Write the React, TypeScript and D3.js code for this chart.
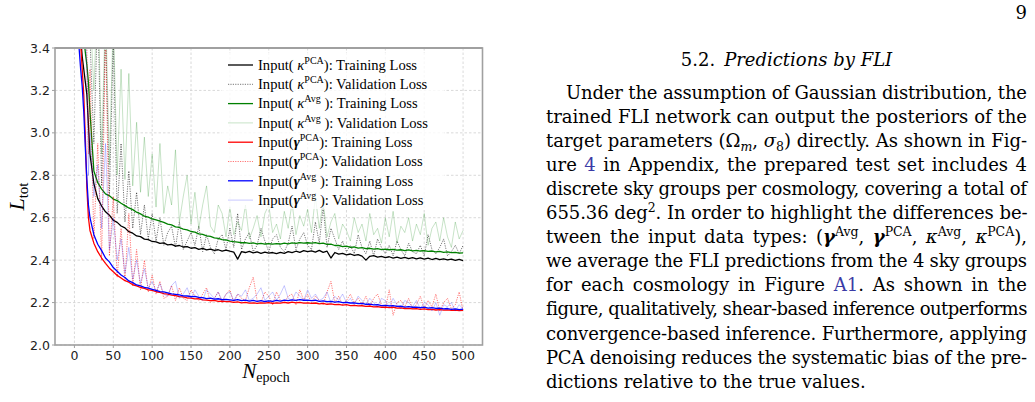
import React, { useLayoutEffect, useRef, useState } from "react";
import * as d3 from "d3";

// Sample epochs: every 2 epochs at the start, then every 5 epochs.
const EPOCHS = [...d3.range(0, 20, 2), ...d3.range(20, 501, 5)];

const KPCA_TRAIN = [
  6.2, 5.0, 4.1, 3.6, 3.45, 3.36, 3.30, 3.24, 3.18, 3.04,
  2.90, 2.76, 2.69, 2.655, 2.628, 2.612, 2.588, 2.578, 2.561, 2.552, 2.534, 2.527, 2.514, 2.511, 2.499, 2.497, 2.488,
  2.486, 2.479, 2.481, 2.472, 2.474, 2.466, 2.469, 2.462, 2.464, 2.456, 2.459, 2.451, 2.455, 2.448, 2.452, 2.446, 2.449, 2.443, 2.447, 2.442,
  2.438, 2.405, 2.440, 2.436, 2.441, 2.434, 2.439, 2.432, 2.438, 2.433, 2.436, 2.431, 2.437, 2.432, 2.440, 2.435, 2.442, 2.437, 2.445, 2.440,
  2.444, 2.438, 2.446, 2.437, 2.442, 2.410, 2.436, 2.428, 2.432, 2.425, 2.429, 2.422, 2.426, 2.419, 2.400, 2.418, 2.421, 2.414, 2.418, 2.412,
  2.416, 2.410, 2.414, 2.408, 2.413, 2.407, 2.412, 2.406, 2.411, 2.405, 2.409, 2.403, 2.408, 2.402, 2.406, 2.401, 2.405, 2.399, 2.404, 2.398,
];
const KPCA_VAL = [
  7.0, 6.0, 5.0, 4.5, 4.2, 4.0, 3.9, 3.8, 3.7, 3.6,
  3.45, 2.95, 3.60, 2.75, 3.50, 2.70, 3.45, 2.62, 2.95, 2.58, 2.82, 2.55, 2.72, 2.52, 2.66, 2.50, 2.62,
  2.49, 2.60, 2.47, 2.53, 2.56, 2.46, 2.58, 2.45, 2.49, 2.53, 2.47, 2.56, 2.44, 2.52, 2.46, 2.43, 2.50, 2.52, 2.45, 2.55,
  2.46, 2.62, 2.45, 2.50, 2.53, 2.44, 2.47, 2.55, 2.49, 2.44, 2.50, 2.52, 2.46, 2.44, 2.48, 2.56, 2.45, 2.50, 2.53, 2.47,
  2.45, 2.58, 2.48, 2.65, 2.46, 2.55, 2.50, 2.45, 2.49, 2.44, 2.47, 2.43, 2.52, 2.46, 2.43, 2.49, 2.42, 2.50, 2.46, 2.43,
  2.47, 2.42, 2.49, 2.45, 2.42, 2.48, 2.44, 2.43, 2.47, 2.42, 2.52, 2.45, 2.43, 2.46, 2.50, 2.42, 2.44, 2.47, 2.43, 2.47,
];
const KAVG_TRAIN = [
  6.5, 5.3, 4.4, 3.9, 3.7, 3.55, 3.45, 3.38, 3.32, 3.24,
  3.10, 2.82, 2.765, 2.735, 2.712, 2.703, 2.688, 2.681, 2.668, 2.657, 2.646, 2.638, 2.626, 2.618, 2.607, 2.603, 2.594,
  2.590, 2.584, 2.578, 2.570, 2.566, 2.557, 2.554, 2.546, 2.543, 2.535, 2.532, 2.524, 2.521, 2.514, 2.512, 2.505, 2.503, 2.497, 2.495, 2.490,
  2.487, 2.485, 2.482, 2.483, 2.479, 2.481, 2.477, 2.479, 2.476, 2.478, 2.475, 2.478, 2.476, 2.480, 2.477, 2.481, 2.479, 2.483, 2.480, 2.482,
  2.480, 2.483, 2.478, 2.480, 2.474, 2.475, 2.469, 2.470, 2.464, 2.466, 2.460, 2.462, 2.457, 2.459, 2.454, 2.456, 2.452, 2.454, 2.450, 2.452,
  2.449, 2.451, 2.447, 2.449, 2.445, 2.448, 2.444, 2.446, 2.443, 2.445, 2.441, 2.443, 2.439, 2.441, 2.437, 2.439, 2.435, 2.437, 2.433, 2.434,
];
const KAVG_VAL = [
  8.0, 7.0, 6.0, 5.2, 4.8, 4.5, 4.2, 4.0, 3.8, 3.7,
  3.60, 3.20, 3.70, 2.90, 3.60, 2.85, 3.55, 2.80, 3.30, 2.78, 3.28, 2.75, 3.05, 2.72, 2.98, 2.70, 2.90,
  2.65, 2.95, 2.62, 2.75, 2.66, 2.92, 2.58, 2.70, 2.80, 2.57, 2.72, 2.55, 2.66, 2.75, 2.56, 2.53, 2.66, 2.62, 2.51, 2.65,
  2.52, 2.58, 2.54, 2.66, 2.50, 2.55, 2.61, 2.51, 2.62, 2.66, 2.53, 2.57, 2.50, 2.63, 2.55, 2.67, 2.52, 2.61, 2.56, 2.64,
  2.53, 2.70, 2.55, 2.68, 2.51, 2.58, 2.62, 2.50, 2.57, 2.54, 2.49, 2.60, 2.53, 2.57, 2.49, 2.62, 2.52, 2.55, 2.48, 2.60,
  2.51, 2.63, 2.48, 2.56, 2.53, 2.60, 2.49, 2.57, 2.52, 2.62, 2.47, 2.55, 2.58, 2.49, 2.60, 2.51, 2.46, 2.58, 2.50, 2.54,
];
const GPCA_TRAIN = [
  6.0, 4.9, 4.0, 3.55, 3.42, 3.30, 3.18, 2.98, 2.74, 2.60,
  2.54, 2.48, 2.44, 2.41, 2.385, 2.362, 2.345, 2.328, 2.316, 2.303, 2.296, 2.284, 2.279, 2.271, 2.267, 2.260, 2.257,
  2.251, 2.248, 2.242, 2.240, 2.235, 2.233, 2.228, 2.227, 2.222, 2.221, 2.217, 2.218, 2.213, 2.212, 2.209, 2.210, 2.206, 2.207, 2.204, 2.205,
  2.201, 2.203, 2.199, 2.201, 2.197, 2.199, 2.196, 2.199, 2.197, 2.200, 2.196, 2.199, 2.197, 2.201, 2.198, 2.202, 2.199, 2.201, 2.197, 2.199,
  2.196, 2.198, 2.194, 2.196, 2.192, 2.194, 2.190, 2.191, 2.188, 2.190, 2.186, 2.187, 2.184, 2.185, 2.182, 2.183, 2.180, 2.181, 2.178, 2.179,
  2.176, 2.178, 2.174, 2.175, 2.172, 2.173, 2.170, 2.171, 2.168, 2.170, 2.167, 2.168, 2.165, 2.167, 2.164, 2.166, 2.163, 2.165, 2.162, 2.163,
];
const GPCA_VAL = [
  7.0, 6.0, 5.0, 4.6, 4.3, 4.0, 3.8, 3.7, 3.4, 2.9,
  3.30, 2.50, 2.95, 2.40, 3.50, 2.42, 2.70, 2.32, 2.55, 2.30, 2.62, 2.28, 2.45, 2.26, 2.40, 2.25, 2.33,
  2.24, 2.30, 2.22, 2.23, 2.28, 2.21, 2.27, 2.22, 2.21, 2.26, 2.23, 2.21, 2.24, 2.27, 2.20, 2.22, 2.25, 2.20, 2.24, 2.26,
  2.20, 2.24, 2.22, 2.21, 2.27, 2.32, 2.21, 2.20, 2.25, 2.23, 2.19, 2.25, 2.21, 2.20, 2.23, 2.24, 2.19, 2.26, 2.21, 2.24,
  2.20, 2.23, 2.21, 2.19, 2.25, 2.30, 2.20, 2.23, 2.19, 2.21, 2.24, 2.20, 2.22, 2.19, 2.23, 2.18, 2.22, 2.24, 2.19, 2.17,
  2.26, 2.14, 2.20, 2.21, 2.18, 2.22, 2.17, 2.19, 2.23, 2.17, 2.21, 2.18, 2.24, 2.16, 2.20, 2.22, 2.17, 2.19, 2.25, 2.16,
];
const GAVG_TRAIN = [
  5.6, 4.6, 3.8, 3.40, 3.30, 3.22, 3.10, 2.93, 2.78, 2.66,
  2.60, 2.52, 2.475, 2.445, 2.41, 2.392, 2.365, 2.348, 2.33, 2.318, 2.302, 2.294, 2.283, 2.279, 2.272, 2.268, 2.262,
  2.258, 2.252, 2.250, 2.246, 2.241, 2.239, 2.236, 2.232, 2.231, 2.228, 2.229, 2.224, 2.223, 2.219, 2.221, 2.216, 2.218, 2.214, 2.215, 2.213,
  2.210, 2.214, 2.209, 2.212, 2.207, 2.210, 2.206, 2.209, 2.205, 2.208, 2.206, 2.210, 2.207, 2.212, 2.209, 2.213, 2.210, 2.214, 2.211, 2.212,
  2.209, 2.211, 2.206, 2.208, 2.204, 2.206, 2.202, 2.204, 2.200, 2.201, 2.198, 2.199, 2.195, 2.196, 2.192, 2.193, 2.189, 2.190, 2.186, 2.187,
  2.184, 2.186, 2.182, 2.183, 2.179, 2.181, 2.178, 2.179, 2.176, 2.178, 2.174, 2.176, 2.173, 2.174, 2.170, 2.172, 2.168, 2.170, 2.167, 2.169,
];
const GAVG_VAL = [
  7.0, 6.0, 5.0, 4.4, 4.0, 3.8, 3.6, 3.5, 3.3, 2.8,
  3.00, 2.70, 2.85, 2.55, 2.95, 2.45, 2.60, 2.40, 2.50, 2.34, 2.46, 2.31, 2.40, 2.29, 2.36, 2.27, 2.30,
  2.25, 2.29, 2.24, 2.23, 2.28, 2.30, 2.22, 2.24, 2.27, 2.22, 2.26, 2.23, 2.21, 2.26, 2.24, 2.22, 2.25, 2.21, 2.24, 2.25,
  2.21, 2.24, 2.23, 2.26, 2.21, 2.22, 2.24, 2.27, 2.21, 2.23, 2.25, 2.21, 2.24, 2.28, 2.22, 2.21, 2.25, 2.23, 2.21, 2.26,
  2.22, 2.24, 2.21, 2.22, 2.25, 2.20, 2.23, 2.21, 2.24, 2.20, 2.22, 2.19, 2.23, 2.21, 2.19, 2.22, 2.20, 2.18, 2.22, 2.21,
  2.18, 2.22, 2.19, 2.17, 2.21, 2.20, 2.18, 2.21, 2.17, 2.20, 2.19, 2.16, 2.20, 2.14, 2.19, 2.18, 2.20, 2.16, 2.19, 2.17,
];

const X_TICKS = [0, 50, 100, 150, 200, 250, 300, 350, 400, 450, 500];
const Y_TICKS = [2.0, 2.2, 2.4, 2.6, 2.8, 3.0, 3.2, 3.4];

type Seg = [string, string];

// Legend labels: [text, kind] pieces
const LEGEND_LABELS: Seg[][] = [
  [["Input( ", "n"], ["κ", "i"], ["PCA", "sup"], ["): Training Loss", "n"]],
  [["Input( ", "n"], ["κ", "i"], ["PCA", "sup"], ["): Validation Loss", "n"]],
  [["Input( ", "n"], ["κ", "i"], ["Avg", "sup"], [" ): Training Loss", "n"]],
  [["Input( ", "n"], ["κ", "i"], ["Avg", "sup"], [" ): Validation Loss", "n"]],
  [["Input(", "n"], ["γ", "bi"], ["PCA", "sup"], ["): Training Loss", "n"]],
  [["Input(", "n"], ["γ", "bi"], ["PCA", "sup"], ["): Validation Loss", "n"]],
  [["Input(", "n"], ["γ", "bi"], ["Avg", "sup"], [" ): Training Loss", "n"]],
  [["Input(", "n"], ["γ", "bi"], ["Avg", "sup"], [" ): Validation Loss", "n"]],
];

const SERIES = [
  { values: KPCA_TRAIN, stroke: "#000000", width: 1.3, dash: "", opacity: 1 },
  { values: KPCA_VAL, stroke: "#000000", width: 0.9, dash: "1.2,1.2", opacity: 0.6 },
  { values: KAVG_TRAIN, stroke: "#008000", width: 1.3, dash: "", opacity: 1 },
  { values: KAVG_VAL, stroke: "#008000", width: 1.0, dash: "", opacity: 0.22 },
  { values: GPCA_TRAIN, stroke: "#ff0000", width: 1.3, dash: "", opacity: 1 },
  { values: GPCA_VAL, stroke: "#ff0000", width: 0.9, dash: "1.2,1.2", opacity: 0.6 },
  { values: GAVG_TRAIN, stroke: "#0000ff", width: 1.3, dash: "", opacity: 1 },
  { values: GAVG_VAL, stroke: "#0000ff", width: 1.0, dash: "", opacity: 0.22 },
];

const SECTION_NUM = "5.2.";
const SECTION_TITLE = "Predictions by FLI";
const PAGE_NUM = "9";

const PARAGRAPH: Seg[][] = [
  [["Under the assumption of Gaussian distribution, the", "n"]],
  [["trained FLI network can output the posteriors of the", "n"]],
  [["target parameters (", "n"], ["Ω", "n"], ["m", "subi"], [", ", "n"], ["σ", "i"], ["8", "sub"], [") directly. As shown in Fig-", "n"]],
  [["ure ", "n"], ["4", "link"], [" in Appendix, the prepared test set includes 4", "n"]],
  [["discrete sky groups per cosmology, covering a total of", "n"]],
  [["655.36 deg", "n"], ["2", "sup"], [". In order to highlight the differences be-", "n"]],
  [["tween the input data types: (", "n"], ["γ", "bi"], ["Avg", "sup"], [", ", "n"], ["γ", "bi"], ["PCA", "sup"], [", ", "n"], ["κ", "i"], ["Avg", "sup"], [", ", "n"], ["κ", "i"], ["PCA", "sup"], ["),", "n"]],
  [["we average the FLI predictions from the 4 sky groups", "n"]],
  [["for each cosmology in Figure ", "n"], ["A1", "link"], [". As shown in the", "n"]],
  [["figure, qualitatively, shear-based inference outperforms", "n"]],
  [["convergence-based inference. Furthermore, applying", "n"]],
  [["PCA denoising reduces the systematic bias of the pre-", "n"]],
  [["dictions relative to the true values.", "n"]],
];

const W = 1035;
const H = 402;
const PLOT = { left: 55, right: 482.5, top: 48, bottom: 345 };

const x = d3.scaleLinear().domain([-25, 525]).range([PLOT.left, PLOT.right]);
const y = d3.scaleLinear().domain([2.0, 3.4]).range([PLOT.bottom, PLOT.top]);

const SERIF = "'Liberation Serif', 'Times New Roman', serif";
const BODY = "'DejaVu Serif', serif";
const SANS = "'DejaVu Sans', sans-serif";

function renderSegs(segs: Seg[], base: number, small: number, supShift: number, subShift: number, linkColor = "#3b3ba6") {
  let cur = 0;
  return segs.map(([t, kind], i) => {
    let target = 0;
    const style: React.CSSProperties = {};
    let size = base;
    if (kind === "sup") { target = -supShift; size = small; }
    if (kind === "sub" || kind === "subi") { target = subShift; size = small; }
    if (kind === "i" || kind === "subi") style.fontStyle = "italic";
    if (kind === "bi") { style.fontStyle = "italic"; style.fontWeight = "bold"; }
    const dy = target - cur;
    cur = target;
    return (
      <tspan key={i} dy={dy || undefined} fontSize={size} style={style} fill={kind === "link" ? linkColor : undefined}>
        {t}
      </tspan>
    );
  });
}

const BODY_SIZE = 18;

type Spacing = { word: number; letter: number };

export default function App() {
  const line = d3
    .line<number>()
    .x((_, i) => x(EPOCHS[i]))
    .y((v) => y(v));

  const legendX0 = 228;
  const legendX1 = 253;
  const legendTextX = 258;
  const legendY0 = 65;
  const legendStep = 19.3;

  const paraLeft = 546;
  const paraRight = 1027;
  const paraTop = 99;
  const paraStep = 24.05;

  const lineRefs = useRef<(SVGTextElement | null)[]>([]);
  const [spacing, setSpacing] = useState<Spacing[]>(PARAGRAPH.map(() => ({ word: 0, letter: 0 })));

  // Justify every line but the last: widen the spaces, or tighten letters when a line runs long.
  useLayoutEffect(() => {
    const sp = PARAGRAPH.map((segs, i) => {
      const el = lineRefs.current[i];
      if (!el || i === PARAGRAPH.length - 1) return { word: 0, letter: 0 };
      const lx = i === 0 ? paraLeft + 20 : paraLeft;
      const natural = el.getComputedTextLength();
      const text = segs.map((s) => s[0]).join("");
      const n = (text.match(/ /g) || []).length;
      const extra = paraRight - lx - natural;
      if (extra >= 0) return { word: n ? extra / n : 0, letter: 0 };
      return { word: 0, letter: extra / Math.max(1, text.length - 1) };
    });
    setSpacing(sp);
  }, []);

  return (
    <svg
      width={W}
      height={H}
      viewBox={`0 0 ${W} ${H}`}
      style={{ position: "absolute", left: 0, top: 0, background: "#fff" }}
    >
      <defs>
        <clipPath id="plot-area">
          <rect x={PLOT.left} y={PLOT.top} width={PLOT.right - PLOT.left} height={PLOT.bottom - PLOT.top} />
        </clipPath>
      </defs>
      <rect x={0} y={0} width={W} height={H} fill="#fff" />

      {/* grid */}
      <g stroke="#cfcfcf" strokeWidth={0.8} strokeDasharray="2.5,2">
        {X_TICKS.map((t) => (
          <line key={`gx${t}`} x1={x(t)} x2={x(t)} y1={PLOT.top} y2={PLOT.bottom} />
        ))}
        {Y_TICKS.map((t) => (
          <line key={`gy${t}`} x1={PLOT.left} x2={PLOT.right} y1={y(t)} y2={y(t)} />
        ))}
      </g>

      {/* loss curves */}
      <g clipPath="url(#plot-area)" fill="none">
        {SERIES.map((s, i) => (
          <path
            key={i}
            d={line(s.values) || ""}
            stroke={s.stroke}
            strokeWidth={s.width}
            strokeOpacity={s.opacity}
            strokeDasharray={s.dash || undefined}
            strokeLinejoin="round"
          />
        ))}
      </g>

      {/* legend */}
      <rect x={222} y={53} width={222} height={156} fill="#fff" fillOpacity={0.8} />
      {SERIES.map((s, i) => {
        const cy = legendY0 + i * legendStep;
        return (
          <g key={`lg${i}`}>
            <line
              x1={legendX0}
              x2={legendX1}
              y1={cy}
              y2={cy}
              stroke={s.stroke}
              strokeWidth={s.width}
              strokeOpacity={s.opacity}
              strokeDasharray={s.dash || undefined}
            />
            <text x={legendTextX} y={cy + 4.8} fontFamily={SERIF} fontSize={14.6} fill="#000">
              {renderSegs(LEGEND_LABELS[i], 14.6, 10, 6, 3)}
            </text>
          </g>
        );
      })}

      {/* frame */}
      <rect
        x={PLOT.left}
        y={PLOT.top}
        width={PLOT.right - PLOT.left}
        height={PLOT.bottom - PLOT.top}
        fill="none"
        stroke="#a0a0a0"
        strokeWidth={1.6}
      />
      <line x1={PLOT.left} x2={PLOT.right} y1={PLOT.top} y2={PLOT.top} stroke="#a0a0a0" strokeWidth={2.2} />

      {/* x axis */}
      {X_TICKS.map((t) => (
        <g key={`xt${t}`}>
          <line x1={x(t)} x2={x(t)} y1={PLOT.bottom} y2={PLOT.bottom + 3} stroke="#a0a0a0" strokeWidth={1} />
          <text x={x(t)} y={360} textAnchor="middle" fontFamily={SANS} fontSize={12.5} fill="#222">
            {t}
          </text>
        </g>
      ))}
      {/* y axis */}
      {Y_TICKS.map((t) => (
        <g key={`yt${t}`}>
          <line x1={PLOT.left - 3} x2={PLOT.left} y1={y(t)} y2={y(t)} stroke="#a0a0a0" strokeWidth={1} />
          <text x={50} y={y(t) + 4.5} textAnchor="end" fontFamily={SANS} fontSize={12.5} fill="#222">
            {t.toFixed(1)}
          </text>
        </g>
      ))}

      {/* axis titles */}
      <text
        transform={`translate(24, ${(PLOT.top + PLOT.bottom) / 2}) rotate(-90)`}
        textAnchor="middle"
        fontFamily={SERIF}
        fill="#000"
      >
        <tspan fontSize={22} fontStyle="italic">L</tspan>
        <tspan fontSize={15} dy={4}>tot</tspan>
      </text>
      <text x={266} y={378} textAnchor="middle" fontFamily={SERIF} fill="#000">
        <tspan fontSize={21} fontStyle="italic">N</tspan>
        <tspan fontSize={14} dy={4}>epoch</tspan>
      </text>

      {/* page text */}
      <text x={paraRight} y={19} textAnchor="end" fontFamily={BODY} fontSize={BODY_SIZE} fill="#000">
        {PAGE_NUM}
      </text>
      <text x={(paraLeft + paraRight) / 2} y={66} textAnchor="middle" fontFamily={BODY} fontSize={BODY_SIZE} fill="#000">
        <tspan>{SECTION_NUM}</tspan>
        <tspan dx={9} fontStyle="italic">{SECTION_TITLE}</tspan>
      </text>
      {PARAGRAPH.map((segs, i) => {
        const lx = i === 0 ? paraLeft + 20 : paraLeft;
        const sp = spacing[i] || { word: 0, letter: 0 };
        return (
          <text
            key={`p${i}`}
            ref={(el) => {
              lineRefs.current[i] = el;
            }}
            x={lx}
            y={paraTop + i * paraStep}
            fontFamily={BODY}
            fontSize={BODY_SIZE}
            fill="#000"
            style={{ wordSpacing: `${sp.word}px`, letterSpacing: `${sp.letter}px` }}
          >
            {renderSegs(segs, BODY_SIZE, 12.5, 7, 4)}
          </text>
        );
      })}
    </svg>
  );
}
